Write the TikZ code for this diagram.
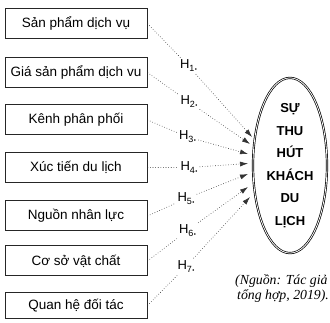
\documentclass[tikz,border=0pt]{standalone}
\usepackage{fontspec}
\setmainfont{Liberation Sans}
\newfontfamily\notefont{Liberation Serif}
\usetikzlibrary{arrows.meta,shapes.geometric}

% hypothesis label: H with a subscript number and a small dot
\newcommand{\hyplabel}[1]{H\raisebox{-3pt}{\fontsize{9}{9}\selectfont #1\kern0.4pt{\fontsize{6}{6}\selectfont •}}}

\begin{document}
\begin{tikzpicture}[x=1pt,y=-1pt,
  factor/.style={draw=black!85, line width=1pt, minimum width=142pt,
    minimum height=30pt, inner sep=0pt, font=\fontsize{13.5}{16}\selectfont},
  hyp/.style={inner sep=2pt, font=\fontsize{13}{14}\selectfont},
  link/.style={dotted, line width=0.6pt, draw=black!80,
    -{Latex[length=8pt,width=5pt]}},
  goalshape/.style={draw=black, ellipse, double, line width=0.7pt,
    double distance=0.8pt, minimum width=74pt, minimum height=164pt,
    inner sep=0pt, align=center,
    font=\bfseries\fontsize{13}{22.5}\selectfont},
  note/.style={inner sep=0pt, anchor=base west,
    font=\notefont\itshape\fontsize{13.8}{15}\selectfont}]

\clip (0,0) rectangle (330,323);

% factor boxes
\node[factor] (b1) at (76,23.5) {Sản phẩm dịch vụ};
\node[factor] (b2) at (76,72.5) {Giá sản phẩm dịch vu};
\node[factor] (b3) at (76,120) {Kênh phân phối};
\node[factor] (b4) at (76,167.5) {Xúc tiến du lịch};
\node[factor] (b5) at (76,216) {Nguồn nhân lực};
\node[factor] (b6) at (76,261) {Cơ sở vật chất};
\node[factor, minimum height=26pt] (b7) at (76,305.5) {Quan hệ đối tác};

% central construct
\node[goalshape] (goal) at (290,165.5) {SỰ\\THU\\HÚT\\KHÁCH\\DU\\LỊCH};

% hypothesis labels
\node[hyp] (h1) at (188.5,66) {\hyplabel{1}};
\node[hyp] (h2) at (189,102) {\hyplabel{2}};
\node[hyp] (h3) at (187.5,137) {\hyplabel{3}};
\node[hyp] (h4) at (189,167.5) {\hyplabel{4}};
\node[hyp] (h5) at (186,198.5) {\hyplabel{5}};
\node[hyp] (h6) at (187.5,230.5) {\hyplabel{6}};
\node[hyp] (h7) at (186,266.5) {\hyplabel{7}};

% arrow ends on the left side of the ellipse
\coordinate (t1) at (252,137);
\coordinate (t2) at (250,144);
\coordinate (t3) at (248,154);
\coordinate (t4) at (248,163.5);
\coordinate (t5) at (248,174);
\coordinate (t6) at (248,187);
\coordinate (t7) at (250,197);

% dotted relations
\draw[link] (b1.east) -- (h1) -- (t1);
\draw[link] (b2.east) -- (h2) -- (t2);
\draw[link] (b3.east) -- (h3) -- (t3);
\draw[link] (b4.east) -- (h4) -- (t4);
\draw[link] (b5.east) -- (h5) -- (t5);
\draw[link] (b6.east) -- (h6) -- (t6);
\draw[link] (b7.east) -- (h7) -- (t7);

% source note
\node[note] (src1) at (235,285) {(Nguồn: Tác giả};
\node[note] (src2) at (237,300) {tổng hợp, 2019).};
\end{tikzpicture}
\end{document}
